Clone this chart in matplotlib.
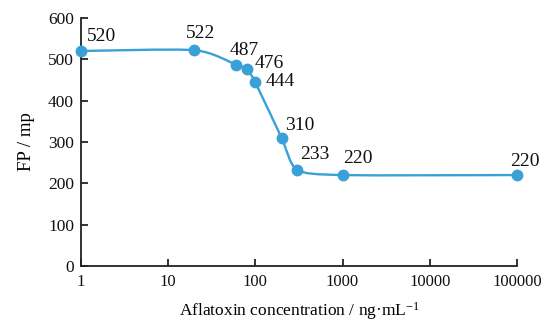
import numpy as np
import matplotlib
matplotlib.use("Agg")
import matplotlib.pyplot as plt
from matplotlib.path import Path
import matplotlib.patches as patches

plt.rcParams['font.family'] = ['Liberation Serif', 'DejaVu Serif']
plt.rcParams['mathtext.fontset'] = 'custom'
plt.rcParams['mathtext.rm'] = 'Liberation Serif'
plt.rcParams['mathtext.default'] = 'regular'

# data
conc = [1, 20, 60, 80, 100, 200, 300, 1000, 100000]
fp = [520, 522, 487, 476, 444, 310, 233, 220, 220]
x_ticks = [1, 10, 100, 1000, 10000, 100000]
x_ticklabels = ['1', '10', '100', '1000', '10000', '100000']
y_ticks = [0, 100, 200, 300, 400, 500, 600]

# label offsets in pixels (dx, dy) from each point
label_off = [(6, 15), (-8, 17), (-6, 14), (8, 6), (10, 1), (3, 12), (3, 15), (1, 17), (-7, 14)]

color = '#3aa1d8'

fig = plt.figure(figsize=(5.43, 3.26), dpi=100)
ax = fig.add_axes([0.149, 0.184, 0.803, 0.761])
ax.set_xscale('log')
ax.set_xlim(1, 100000)
ax.set_ylim(0, 600)


def smooth_path(xs, ys, t=0.12):
    # bezier through the points, built in log-x space
    lx = np.log10(xs)
    y = np.array(ys, dtype=float)
    n = len(lx)
    verts = [(xs[0], y[0])]
    codes = [Path.MOVETO]
    for i in range(n - 1):
        i0 = max(i - 1, 0)
        i3 = min(i + 2, n - 1)
        c1 = (lx[i] + (lx[i + 1] - lx[i0]) * t, y[i] + (y[i + 1] - y[i0]) * t)
        c2 = (lx[i + 1] - (lx[i3] - lx[i]) * t, y[i + 1] - (y[i3] - y[i]) * t)
        verts += [(10 ** c1[0], c1[1]), (10 ** c2[0], c2[1]), (xs[i + 1], y[i + 1])]
        codes += [Path.CURVE4] * 3
    return Path(verts, codes)


curve = patches.PathPatch(smooth_path(conc, fp), facecolor='none', edgecolor=color, lw=1.7, zorder=2)
ax.add_patch(curve)
ax.plot(conc, fp, 'o', color=color, markersize=7.5, zorder=3, clip_on=False)

for xv, yv, (dx, dy) in zip(conc, fp, label_off):
    ax.annotate(str(yv), (xv, yv), xytext=(dx, dy), textcoords='offset pixels',
                ha='left', va='center', fontsize=14, color='#111111')

ax.set_xticks(x_ticks)
ax.set_xticklabels(x_ticklabels)
ax.minorticks_off()
ax.set_yticks(y_ticks)
ax.tick_params(axis='both', direction='in', length=5, width=1.2, labelsize=12.5, colors='#111111')
ax.tick_params(axis='x', pad=6, labelsize=12)
ax.tick_params(axis='y', pad=5)

for s in ['top', 'right']:
    ax.spines[s].set_visible(False)
for s in ['left', 'bottom']:
    ax.spines[s].set_linewidth(1.3)
    ax.spines[s].set_color('#222222')

ax.set_xlabel('Aflatoxin concentration / ng·mL$^{-1}$', fontsize=12.5, labelpad=7)
ax.set_ylabel('FP / mp', fontsize=13.5, labelpad=9)

fig.savefig('out.png', dpi=100)
